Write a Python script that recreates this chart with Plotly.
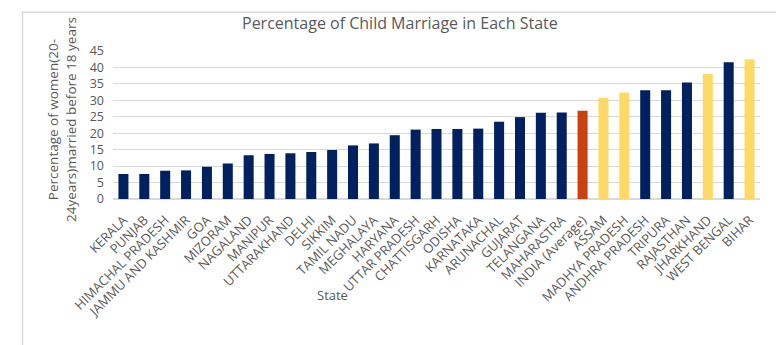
import plotly.graph_objects as go

states = ["KERALA", "PUNJAB", "HIMACHAL PRADESH", "JAMMU AND KASHMIR", "GOA", "MIZORAM",
          "NAGALAND", "MANIPUR", "UTTARAKHAND", "DELHI", "SIKKIM", "TAMIL NADU", "MEGHALAYA",
          "HARYANA", "UTTAR PRADESH", "CHATTISGARH", "ODISHA", "KARNATAKA", "ARUNACHAL",
          "GUJARAT", "TELANGANA", "MAHARASTRA", "INDIA (Average)", "ASSAM", "MADHYA PRADESH",
          "ANDHRA PRADESH", "TRIPURA", "RAJASTHAN", "JHARKHAND", "WEST BENGAL", "BIHAR"]
values = [7.6, 7.6, 8.6, 8.7, 9.8, 10.8, 13.3, 13.7, 13.9, 14.3, 14.9, 16.3, 16.9,
          19.4, 21.1, 21.3, 21.3, 21.4, 23.5, 24.9, 26.2, 26.3, 26.8, 30.8, 32.4,
          33.1, 33.1, 35.4, 38.0, 41.6, 42.5]
groups = ["n"] * 22 + ["avg", "y", "y", "n", "n", "n", "y", "n", "y"]
palette = {"n": "#002060", "avg": "#C9410E", "y": "#FFD966"}
colors = [palette[g] for g in groups]
yticks = [0, 5, 10, 15, 20, 25, 30, 35, 40, 45]

W, H = 776, 345
L, R, T, B = 113, 16, 51, 146
pw, ph = W - L - R, H - T - B

def px_x(x):
    return (x - L) / pw

def px_y(y):
    return (H - B - y) / ph

fig = go.Figure(go.Bar(x=states, y=values, marker_color=colors, marker_line_width=0))

fig.update_layout(
    width=W, height=H,
    margin=dict(l=L, r=R, t=T, b=B),
    paper_bgcolor="white", plot_bgcolor="white",
    bargap=0.52,
    showlegend=False,
    font=dict(family="Open Sans", color="#595959"),
)
fig.update_xaxes(tickangle=-45, tickfont=dict(size=13, color="#595959"),
                 showgrid=False, showline=False, ticks="", ticklabelstandoff=10)
fig.update_yaxes(range=[0, 45], tickvals=yticks, tickfont=dict(size=12.5, color="#595959"),
                 gridcolor="#D9D9D9", gridwidth=1, zeroline=True, zerolinecolor="#D9D9D9",
                 showline=False, ticks="", ticklabelstandoff=8)

fig.add_annotation(text="Percentage of Child Marriage in Each State", xref="paper", yref="paper",
                   x=px_x(400), y=px_y(23), xanchor="center", yanchor="middle", showarrow=False,
                   font=dict(size=16, color="#595959"))
fig.add_annotation(text="Percentage of women(20-<br>24years)married before 18 years",
                   textangle=-90, xref="paper", yref="paper", x=px_x(62), y=px_y(120),
                   xanchor="center", yanchor="middle", showarrow=False,
                   font=dict(size=13.5, color="#595959"))
fig.add_annotation(text="State", xref="paper", yref="paper", x=px_x(332), y=px_y(295),
                   xanchor="center", yanchor="middle", showarrow=False,
                   font=dict(size=13, color="#595959"))
fig.add_shape(type="rect", xref="paper", yref="paper", x0=px_x(22.5), x1=px_x(900),
              y0=px_y(500), y1=px_y(12.3), line=dict(color="#D9D9D9", width=1.5),
              fillcolor="rgba(0,0,0,0)", layer="below")

fig.write_html("out.html")
